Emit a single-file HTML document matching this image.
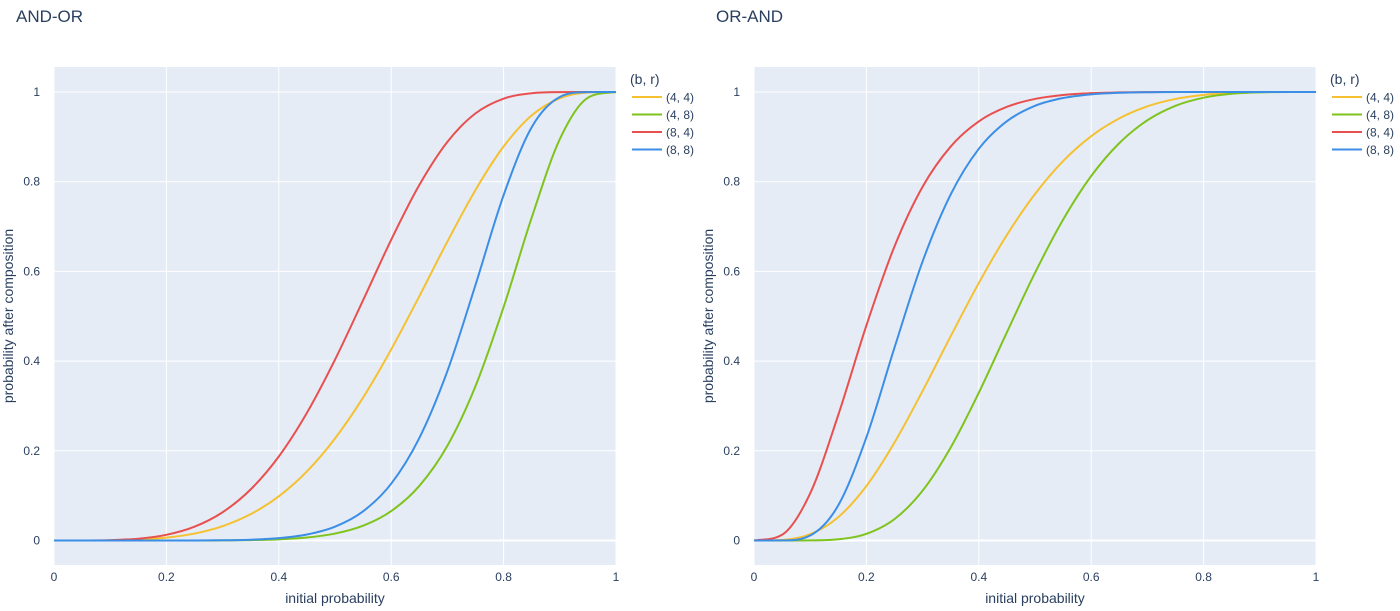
<!DOCTYPE html>
<html><head><meta charset="utf-8"><style>
html,body{margin:0;padding:0;background:#fff;width:1400px;height:611px;overflow:hidden}
svg text{font-family:"Liberation Sans",sans-serif;fill:#2a3f5f}
</style></head><body>
<svg id="chart" width="1400" height="611" xmlns="http://www.w3.org/2000/svg"></svg>
<script>
const pValues=[0,0.05,0.1,0.15,0.2,0.25,0.3,0.35,0.4,0.45,0.5,0.55,0.6,0.65,0.7,0.75,0.8,0.85,0.9,0.95,1];
const seriesNames=["(4, 4)","(4, 8)","(8, 4)","(8, 8)"];
const seriesColors=["#f5c131","#7fc31d","#e8504f","#3b8ee6"];
const andOr44=[0,0.000025,0.0004,0.002,0.0064,0.0155,0.032,0.0587,0.0985,0.154,0.2275,0.3187,0.426,0.5445,0.6666,0.7816,0.8785,0.9478,0.986,0.9988,1];
const andOr48=[0,0,0,0,0,0.00006,0.00026,0.0009,0.0026,0.0067,0.0155,0.0331,0.0655,0.1216,0.2112,0.3442,0.5204,0.7199,0.8948,0.9872,1];
const andOr84=[0,0.00005,0.0008,0.004,0.0127,0.0308,0.063,0.114,0.1873,0.2846,0.4032,0.5358,0.6705,0.7925,0.8888,0.9523,0.9852,0.9973,0.9998,1,1];
const andOr88=[0,0,0,0,0,0.00012,0.0005,0.0018,0.0052,0.0134,0.0308,0.0651,0.1267,0.2284,0.3778,0.5699,0.77,0.9215,0.9889,0.9998,1];
const orAnd44=[0,0.0012,0.014,0.0522,0.1215,0.2184,0.3334,0.4555,0.574,0.6813,0.7725,0.846,0.9015,0.9413,0.968,0.9845,0.9936,0.998,0.9996,1,1];
const orAnd48=[0,0,0.0002,0.0027,0.0148,0.0477,0.1112,0.2075,0.3295,0.4642,0.5968,0.7154,0.8127,0.886,0.937,0.9692,0.9873,0.996,0.9992,0.99995,1];
const orAnd84=[0,0.0128,0.1052,0.2801,0.4796,0.6558,0.7888,0.8784,0.9345,0.9669,0.9845,0.9933,0.9974,0.9991,0.99974,0.99994,1,1,1,1,1];
const orAnd88=[0,0.0002,0.0111,0.0785,0.23,0.4301,0.6222,0.7716,0.8733,0.9349,0.9692,0.9866,0.9948,0.9982,0.9995,0.99988,1,1,1,1,1];
const xTicks=[0,0.2,0.4,0.6,0.8,1];
const yTicks=[0,0.2,0.4,0.6,0.8,1];
const xTickLabels=["0","0.2","0.4","0.6","0.8","1"];
const yTickLabels=["0","0.2","0.4","0.6","0.8","1"];

const NS="http://www.w3.org/2000/svg";
const svg=document.getElementById('chart');
function mk(tag,attrs,parent){const e=document.createElementNS(NS,tag);for(const k in attrs)e.setAttribute(k,attrs[k]);(parent||svg).appendChild(e);return e;}

function monoPath(pts){
  const n=pts.length;const d=[],m=[];
  for(let i=0;i<n-1;i++){d.push((pts[i+1][1]-pts[i][1])/(pts[i+1][0]-pts[i][0]));}
  m[0]=d[0];m[n-1]=d[n-2];
  for(let i=1;i<n-1;i++){m[i]=(d[i-1]*d[i]<=0)?0:(d[i-1]+d[i])/2;}
  for(let i=0;i<n-1;i++){if(d[i]===0){m[i]=0;m[i+1]=0;continue;}const a=m[i]/d[i],b=m[i+1]/d[i];const s=a*a+b*b;if(s>9){const t=3/Math.sqrt(s);m[i]=t*a*d[i];m[i+1]=t*b*d[i];}}
  let p="M"+pts[0][0].toFixed(2)+","+pts[0][1].toFixed(2);
  for(let i=0;i<n-1;i++){const h=(pts[i+1][0]-pts[i][0])/3;
    p+=" C"+(pts[i][0]+h).toFixed(2)+","+(pts[i][1]+m[i]*h).toFixed(2)+" "+(pts[i+1][0]-h).toFixed(2)+","+(pts[i+1][1]-m[i+1]*h).toFixed(2)+" "+pts[i+1][0].toFixed(2)+","+pts[i+1][1].toFixed(2);}
  return p;
}

function panel(x0,title,seriesList,prefix){
  const L=x0,R=x0+562,T=67,B=565;
  const xs=v=>L+v*(R-L);
  const ys=v=>540.5-v*448.5;
  const g=mk('g',{});
  
  
  const bg=mk('rect',{x:L,y:T,width:R-L,height:B-T,fill:'#e5ecf6'},g);
  
  
  xTicks.forEach((t,i)=>{
    const ln=mk('line',{x1:xs(t),x2:xs(t),y1:T,y2:B,stroke:'#fff','stroke-width':1},g);
    
    
    const tx=mk('text',{x:xs(t),y:B+16,'text-anchor':'middle','font-size':12},g);tx.textContent=xTickLabels[i];
    
    
  });
  yTicks.forEach((t,i)=>{
    const ln=mk('line',{x1:L,x2:R,y1:ys(t),y2:ys(t),stroke:'#fff','stroke-width':t===0?2:1},g);
    
    
    const tx=mk('text',{x:L-14,y:ys(t)+4,'text-anchor':'end','font-size':12},g);tx.textContent=yTickLabels[i];
    
    
  });
  seriesList.forEach((arr,si)=>{
    const pts=pValues.map((p,i)=>[xs(p),ys(arr[i])]);
    const path=mk('path',{d:monoPath(pts),fill:'none',stroke:seriesColors[si],'stroke-width':2},g);
    
    
  });
  const tt=mk('text',{x:x0-38,y:22,'font-size':17},g);tt.textContent=title;
  
  
  const xt=mk('text',{x:(L+R)/2,y:603,'text-anchor':'middle','font-size':14},g);xt.textContent='initial probability';
  
  
  const yt=mk('text',{x:0,y:0,'text-anchor':'middle','font-size':14,transform:'translate('+(x0-41)+','+((T+B)/2)+') rotate(-90)'},g);yt.textContent='probability after composition';
  
  
  const lg=mk('g',{},g);
  
  
  const lt=mk('text',{x:R+14,y:84,'font-size':14},lg);lt.textContent='(b, r)';
  
  
  seriesNames.forEach((n,i)=>{
    const y=97+i*17.5;
    const e=mk('g',{},lg);
    
    
    mk('line',{x1:R+16,x2:R+46,y1:y,y2:y,stroke:seriesColors[i],'stroke-width':2},e);
    const t=mk('text',{x:R+50,y:y+4.5,'font-size':12},e);t.textContent=n;
  });
}
panel(54,'AND-OR',[andOr44,andOr48,andOr84,andOr88],'and-or');
panel(754,'OR-AND',[orAnd44,orAnd48,orAnd84,orAnd88],'or-and');
</script>
</body></html>
